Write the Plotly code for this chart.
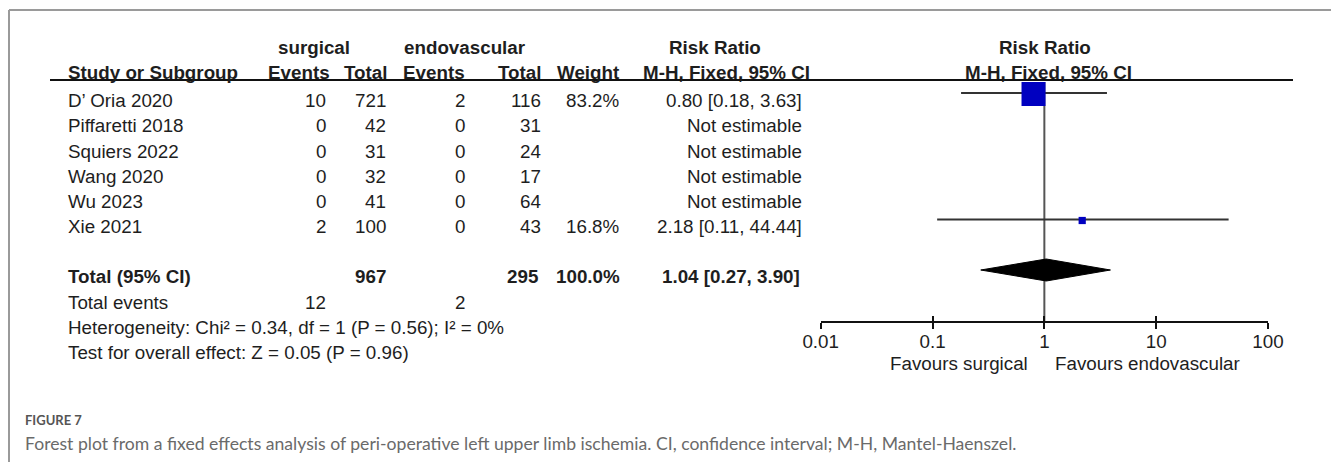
import plotly.graph_objects as go

W, H = 1331, 462

# ---- study data ----
studies = ["D’ Oria 2020", "Piffaretti 2018", "Squiers 2022", "Wang 2020", "Wu 2023", "Xie 2021"]
surg_events = [10, 0, 0, 0, 0, 2]
surg_total = [721, 42, 31, 32, 41, 100]
endo_events = [2, 0, 0, 0, 0, 0]
endo_total = [116, 31, 24, 17, 64, 43]
weights = [83.2, None, None, None, None, 16.8]
rr = [0.80, None, None, None, None, 2.18]
ci_low = [0.18, None, None, None, None, 0.11]
ci_high = [3.63, None, None, None, None, 44.44]

# ---- pooled result ----
total_surg = 967
total_endo = 295
total_weight = 100.0
pooled_rr = 1.04
pooled_low = 0.27
pooled_high = 3.90
events_surg = 12
events_endo = 2
heterogeneity = "Heterogeneity: Chi² = 0.34, df = 1 (P = 0.56); I² = 0%"
overall_effect = "Test for overall effect: Z = 0.05 (P = 0.96)"

# ---- axis ticks ----
tick_vals = [0.01, 0.1, 1, 10, 100]
tick_text = ["0.01", "0.1", "1", "10", "100"]

# ---- layout constants (pixels) ----
FONT = "Liberation Sans, Arial, sans-serif"
FS = 18.8
TXT = "#1e1e1e"
row_y = [100, 125.5, 151, 176, 201.5, 226.5]
total_y = 276
events_y = 302
het_y = 327
test_y = 352
head1_y, head2_y = 47, 72
mark_off = 6          # markers sit slightly above the text middle
axis_y = 322
rule_y = 80

col_study = 66
col_se, col_st = 328, 388
col_ee, col_et = 467, 543
col_w, col_rr = 622, 804


def px(x):
    return x / W


ann = []


def txt(x, y, s, anchor="right", bold=False, size=FS, color=TXT, family=FONT):
    ann.append(dict(
        x=px(x), y=y, xref="paper", yref="y", text=f"<b>{s}</b>" if bold else s,
        showarrow=False, xanchor=anchor, yanchor="middle",
        font=dict(family=family, size=size, color=color),
    ))


# headers
txt(314, head1_y, "surgical", "center", True)
txt(465, head1_y, "endovascular", "center", True)
txt(715, head1_y, "Risk Ratio", "center", True)
txt(1045, head1_y, "Risk Ratio", "center", True)
txt(col_study, head2_y, "Study or Subgroup", "left", True)
txt(col_se + 4, head2_y, "Events", "right", True)
txt(col_st + 1, head2_y, "Total", "right", True)
txt(col_ee, head2_y, "Events", "right", True)
txt(col_et, head2_y, "Total", "right", True)
txt(col_w, head2_y, "Weight", "right", True)
txt(812, head2_y, "M-H, Fixed, 95% CI", "right", True)
txt(1048, head2_y, "M-H, Fixed, 95% CI", "center", True)

# study rows
for i, name in enumerate(studies):
    y = row_y[i]
    txt(col_study, y, name, "left")
    txt(col_se, y, str(surg_events[i]))
    txt(col_st, y, str(surg_total[i]))
    txt(col_ee, y, str(endo_events[i]))
    txt(col_et, y, str(endo_total[i]))
    if weights[i] is not None:
        txt(col_w, y, f"{weights[i]:.1f}%")
    if rr[i] is not None:
        txt(col_rr, y, f"{rr[i]:.2f} [{ci_low[i]:.2f}, {ci_high[i]:.2f}]")
    else:
        txt(col_rr, y, "Not estimable")

# totals
txt(col_study, total_y, "Total (95% CI)", "left", True)
txt(col_st, total_y, str(total_surg), "right", True)
txt(col_et - 3, total_y, str(total_endo), "right", True)
txt(col_w, total_y, f"{total_weight:.1f}%", "right", True)
txt(col_rr - 2, total_y, f"{pooled_rr:.2f} [{pooled_low:.2f}, {pooled_high:.2f}]", "right", True)
txt(col_study, events_y, "Total events", "left")
txt(col_se, events_y, str(events_surg))
txt(col_ee, events_y, str(events_endo))
txt(col_study, het_y, heterogeneity, "left")
txt(col_study, test_y, overall_effect, "left")

# favours labels
txt(1030, 363, "Favours surgical", "right")
txt(1053, 363, "Favours endovascular", "left")

# caption
txt(23, 420, "<b>FIGURE 7</b>", "left", False, 13, "#555555", "Lato, Open Sans, sans-serif")
txt(23, 443, "Forest plot from a fixed effects analysis of peri-operative left upper limb ischemia. "
             "CI, confidence interval; M-H, Mantel-Haenszel.",
    "left", False, 17.6, "#6a6a6a", "Lato, Open Sans, sans-serif")

fig = go.Figure()

# line of no effect
fig.add_trace(go.Scatter(x=[1, 1], y=[rule_y + 2, axis_y], mode="lines",
                         line=dict(color="#555555", width=2), hoverinfo="skip"))

# confidence intervals
ci_x, ci_y = [], []
for i in range(len(studies)):
    if rr[i] is not None:
        ci_x += [ci_low[i], ci_high[i], None]
        ci_y += [row_y[i] - mark_off - 1, row_y[i] - mark_off - 1, None]
fig.add_trace(go.Scatter(x=ci_x, y=ci_y, mode="lines",
                         line=dict(color="#333333", width=2), hoverinfo="skip"))

# study squares, sized by weight
est_idx = [i for i in range(len(studies)) if rr[i] is not None]
fig.add_trace(go.Scatter(
    x=[rr[i] for i in est_idx],
    y=[row_y[i] - mark_off for i in est_idx],
    mode="markers",
    marker=dict(symbol="square", color="#0000c0", opacity=1,
                size=[24 * (weights[i] / 83.2) ** 0.75 for i in est_idx],
                line=dict(width=0)),
    hoverinfo="skip"))

# pooled diamond
dy = 11
dc = total_y - mark_off
fig.add_trace(go.Scatter(
    x=[pooled_low, pooled_rr, pooled_high, pooled_rr, pooled_low],
    y=[dc, dc - dy, dc, dc + dy, dc],
    mode="lines", fill="toself", fillcolor="#000000",
    line=dict(color="#000000", width=1), hoverinfo="skip"))

# helper traces for the tick overlays
for ax in ("x2", "x3"):
    fig.add_trace(go.Scatter(x=[1], y=[axis_y], xaxis=ax, mode="markers",
                             marker=dict(opacity=0), hoverinfo="skip"))

shapes = [
    # header rule
    dict(type="line", xref="paper", yref="y", x0=px(50), x1=px(1293), y0=rule_y, y1=rule_y,
         line=dict(color="#111111", width=2)),
    # frame
    dict(type="line", xref="paper", yref="y", x0=px(9), x1=1, y0=10, y1=10,
         line=dict(color="#9a9a9a", width=2)),
    dict(type="line", xref="paper", yref="y", x0=px(9), x1=px(9), y0=10, y1=H,
         line=dict(color="#9a9a9a", width=2)),
]

axis_pos = (H - axis_y) / H
dom = [px(820.7), px(1268)]
tick_overlay = dict(type="log", range=[-2, 2], domain=dom, anchor="free", position=axis_pos,
                    automargin=False, overlaying="x", matches="x", showline=False,
                    ticklen=6, tickwidth=2, tickcolor="#111111", tickvals=tick_vals,
                    showticklabels=False, showgrid=False, zeroline=False)
fig.update_layout(
    width=W, height=H,
    margin=dict(l=0, r=0, t=0, b=0, pad=0, autoexpand=False),
    paper_bgcolor="white", plot_bgcolor="rgba(0,0,0,0)",
    showlegend=False,
    xaxis=dict(type="log", range=[-2, 2], domain=dom, anchor="free", position=axis_pos,
               automargin=False,
               showline=True, linecolor="#111111", linewidth=2,
               ticks="outside", ticklen=2, tickwidth=2, tickcolor="#111111",
               tickvals=tick_vals, ticktext=tick_text,
               tickfont=dict(family=FONT, size=FS, color=TXT),
               showgrid=False, zeroline=False, fixedrange=True),
    xaxis2=dict(tick_overlay, ticks="inside"),
    xaxis3=dict(tick_overlay, ticks="outside"),
    yaxis=dict(range=[H, 0], domain=[0, 1], visible=False, fixedrange=True, automargin=False),
    annotations=ann,
    shapes=shapes,
)

fig.write_html("out.html")
